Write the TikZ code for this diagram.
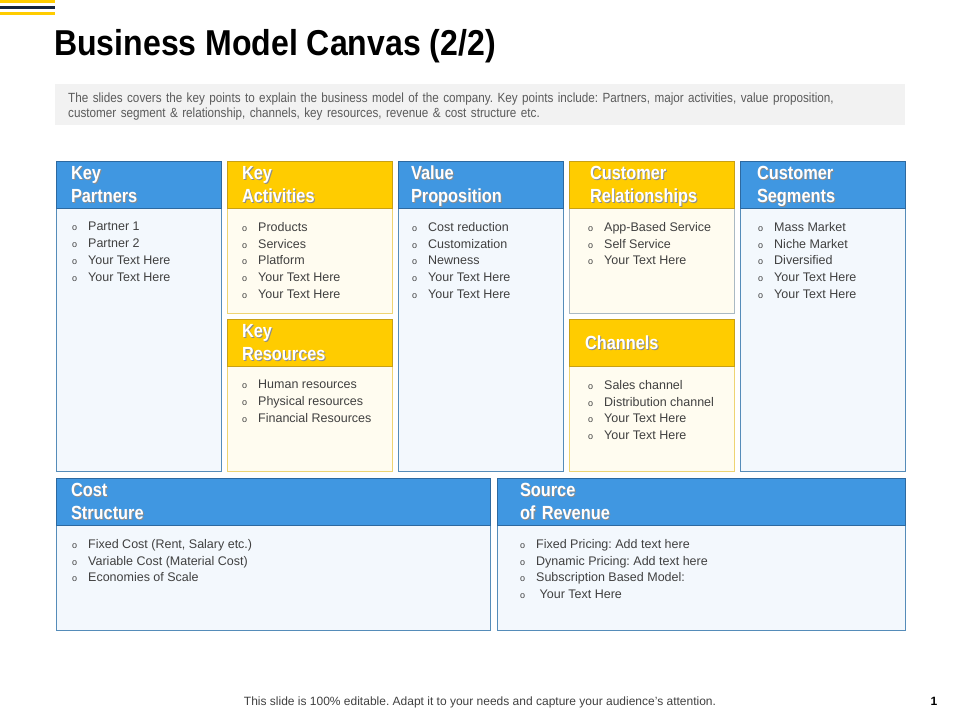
\documentclass[tikz,border=0pt]{standalone}
\usepackage{fontspec}
\setmainfont{Liberation Sans}
\newfontfamily\headfont[FakeStretch=0.86]{Liberation Sans}
\newfontfamily\titlefont[FakeStretch=0.89]{Liberation Sans}
\newfontfamily\descfont[FakeStretch=0.88]{Liberation Sans}
\usetikzlibrary{positioning}
\frenchspacing

\definecolor{cvBlue}{RGB}{64,151,225}
\definecolor{cvBlueLine}{RGB}{45,105,160}
\definecolor{cvBlueEdge}{RGB}{85,140,185}
\definecolor{cvBlueFill}{RGB}{243,248,253}
\definecolor{cvYellow}{RGB}{255,204,0}
\definecolor{cvYellowLine}{RGB}{200,160,20}
\definecolor{cvYellowEdge}{RGB}{238,212,115}
\definecolor{cvYellowFill}{RGB}{255,252,240}
\definecolor{cvGrayEdge}{RGB}{170,185,195}
\definecolor{cvNavy}{RGB}{22,36,60}
\definecolor{cvGray}{RGB}{242,242,242}
\definecolor{cvText}{RGB}{64,64,64}
\definecolor{cvDesc}{RGB}{90,90,90}

\newcommand{\itm}[1]{\makebox[16pt][l]{\fontsize{9}{9}\selectfont o}#1}
\newcommand{\shd}[1]{\makebox[0pt][l]{\kern1pt\raisebox{-1pt}{\textcolor{black!45}{#1}}}#1}

\begin{document}
\begin{tikzpicture}[x=1pt,y=-1pt,
  headBlue/.style={anchor=south west, outer sep=0pt, fill=cvBlue, draw=cvBlueLine,
    line width=0.8pt, minimum height=47pt, minimum width=#1, inner xsep=15pt,
    inner ysep=0pt, text depth=23pt, text width=#1-30pt, align=left, text=white,
    font=\headfont\bfseries\fontsize{19}{23}\selectfont},
  headYellow/.style={headBlue=#1, fill=cvYellow, draw=cvYellowLine},
  bodyBlue/.style={anchor=north west, outer sep=0pt, fill=cvBlueFill, draw=cvBlueEdge,
    line width=0.8pt, minimum width=#1},
  bodyYellow/.style={bodyBlue=#1, fill=cvYellowFill, draw=cvYellowEdge},
  items/.style={anchor=north west, inner sep=0pt, align=left, text=cvText,
    font=\fontsize{12.5}{16.8}\selectfont}
]
\useasboundingbox (0,0) rectangle (960,720);

% Logo
\fill[cvYellow] (0,0) rectangle (55,3);
\fill[cvNavy] (0,6) rectangle (55,9);
\fill[cvYellow] (0,12) rectangle (55,15);

% Titulo y descripcion
\node (title) [anchor=base west, inner sep=0pt,
  font=\titlefont\bfseries\fontsize{36}{40}\selectfont] at (54,55)
  {Business Model Canvas (2/2)};
\node (desc) [anchor=north west, fill=cvGray, minimum width=850pt, minimum height=41pt,
  inner xsep=13pt, inner ysep=0pt, text depth=15pt, text width=824pt, align=left, text=cvDesc,
  font=\descfont\fontsize{13.3}{15}\selectfont] at (55,84)
  {The slides covers the key points to explain the business model of the company. Key points include: Partners, major activities, value proposition,\\
   customer segment \& relationship, channels, key resources, revenue \& cost structure etc.};

% Fila superior: cuerpos
\node (kpb) [bodyBlue=165pt, minimum height=263pt] at (56,208) {};
\node (kab) [bodyYellow=165pt, minimum height=105pt] at ([xshift=6pt]kpb.north east) {};
\node (krb) [bodyYellow=165pt, minimum height=105pt] at ([yshift=-53pt]kab.south west) {};
\node (vpb) [bodyBlue=165pt, minimum height=263pt] at ([xshift=6pt]kab.north east) {};
\node (crb) [bodyYellow=165pt, draw=cvGrayEdge, minimum height=105pt] at ([xshift=6pt]vpb.north east) {};
\node (chb) [bodyYellow=165pt, minimum height=105pt] at ([yshift=-53pt]crb.south west) {};
\node (csb) [bodyBlue=165pt, minimum height=263pt] at ([xshift=6pt]crb.north east) {};

% Fila superior: cabeceras
\node (kp) [headBlue=165pt, above=0pt of kpb.north west, anchor=south west] {\shd{Key}\\\shd{Partners}};
\node (ka) [headYellow=165pt, above=0pt of kab.north west, anchor=south west] {\shd{Key}\\\shd{Activities}};
\node (kr) [headYellow=165pt, above=0pt of krb.north west, anchor=south west] {\shd{Key}\\\shd{Resources}};
\node (vp) [headBlue=165pt, inner xsep=13pt, text width=139pt, above=0pt of vpb.north west, anchor=south west] {\shd{Value}\\\shd{Proposition}};
\node (cr) [headYellow=165pt, inner xsep=21pt, text width=123pt, above=0pt of crb.north west, anchor=south west] {\shd{Customer}\\\shd{Relationships}};
\node (ch) [headYellow=165pt, inner xsep=16pt, text width=133pt, text depth=0pt, above=0pt of chb.north west, anchor=south west] {\shd{Channels}};
\node (cs) [headBlue=165pt, inner xsep=17pt, text width=131pt, above=0pt of csb.north west, anchor=south west] {\shd{Customer}\\\shd{Segments}};

% Fila inferior
\node (cob) [bodyBlue=434pt, minimum height=105pt] at (56,525) {};
\node (srb) [bodyBlue=408pt, minimum height=105pt] at ([xshift=7pt]cob.north east) {};
\node (co) [headBlue=434pt, above=0pt of cob.north west, anchor=south west] {\shd{Cost}\\\shd{Structure}};
\node (sr) [headBlue=408pt, inner xsep=23pt, text width=362pt, above=0pt of srb.north west, anchor=south west] {\shd{Source}\\\shd{of Revenue}};

% Listas
\node (kpl) [items] at ([xshift=16pt,yshift=-14pt]kpb.north west)
  {\itm{Partner 1}\\\itm{Partner 2}\\\itm{Your Text Here}\\\itm{Your Text Here}};
\node (kal) [items] at ([xshift=15pt,yshift=-14pt]kab.north west)
  {\itm{Products}\\\itm{Services}\\\itm{Platform}\\\itm{Your Text Here}\\\itm{Your Text Here}};
\node (krl) [items] at ([xshift=15pt,yshift=-14pt]krb.north west)
  {\itm{Human resources}\\\itm{Physical resources}\\\itm{Financial Resources}};
\node (vpl) [items] at ([xshift=14pt,yshift=-14pt]vpb.north west)
  {\itm{Cost reduction}\\\itm{Customization}\\\itm{Newness}\\\itm{Your Text Here}\\\itm{Your Text Here}};
\node (crl) [items] at ([xshift=19pt,yshift=-14pt]crb.north west)
  {\itm{App-Based Service}\\\itm{Self Service}\\\itm{Your Text Here}};
\node (chl) [items] at ([xshift=19pt,yshift=-14pt]chb.north west)
  {\itm{Sales channel}\\\itm{Distribution channel}\\\itm{Your Text Here}\\\itm{Your Text Here}};
\node (csl) [items] at ([xshift=18pt,yshift=-14pt]csb.north west)
  {\itm{Mass Market}\\\itm{Niche Market}\\\itm{Diversified}\\\itm{Your Text Here}\\\itm{Your Text Here}};
\node (col) [items] at ([xshift=16pt,yshift=-14pt]cob.north west)
  {\itm{Fixed Cost (Rent, Salary etc.)}\\\itm{Variable Cost (Material Cost)}\\\itm{Economies of Scale}};
\node (srl) [items] at ([xshift=23pt,yshift=-14pt]srb.north west)
  {\itm{Fixed Pricing: Add text here}\\\itm{Dynamic Pricing: Add text here}\\\itm{Subscription Based Model:}\\\itm{\ Your Text Here}};

% Pie de pagina
\node (foot) [text=cvText, font=\fontsize{12}{14}\selectfont] at (480,702)
  {This slide is 100\% editable. Adapt it to your needs and capture your audience’s attention.};
\node (page) [font=\bfseries\fontsize{12}{14}\selectfont] at (934,701) {1};
\end{tikzpicture}
\end{document}
